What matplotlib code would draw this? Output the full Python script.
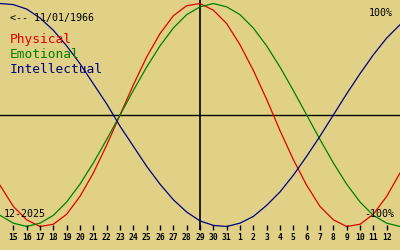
import matplotlib
matplotlib.use("Agg")
import matplotlib.pyplot as plt

# Day labels (Dec 15 .. Dec 31 2025, Jan 1 .. Jan 12 2026); index 0..28
day_labels = [str(d) for d in range(15, 32)] + [str(d) for d in range(1, 13)]

# Sample positions: one day before first label to one day after last label
x_days = list(range(-1, 30))

physical = [-0.63, -0.82, -0.94, -1.00, -0.98, -0.89, -0.73, -0.52, -0.27, 0.00,
            0.27, 0.52, 0.73, 0.89, 0.98, 1.00, 0.94, 0.82, 0.63, 0.40, 0.14,
            -0.14, -0.40, -0.63, -0.82, -0.94, -1.00, -0.98, -0.89, -0.73, -0.52]
emotional = [-0.90, -0.97, -1.00, -0.97, -0.90, -0.78, -0.62, -0.43, -0.22, 0.00,
             0.22, 0.43, 0.62, 0.78, 0.90, 0.97, 1.00, 0.97, 0.90, 0.78, 0.62,
             0.43, 0.22, 0.00, -0.22, -0.43, -0.62, -0.78, -0.90, -0.97, -1.00]
intellectual = [1.00, 0.99, 0.95, 0.87, 0.76, 0.62, 0.46, 0.28, 0.10, -0.10,
                -0.28, -0.46, -0.62, -0.76, -0.87, -0.95, -0.99, -1.00, -0.97, -0.91,
                -0.81, -0.69, -0.54, -0.37, -0.19, 0.00, 0.19, 0.37, 0.54, 0.69, 0.81]

series_names = ["Physical", "Emotional", "Intellectual"]
series_colors = ["#e00000", "#008000", "#000080"]

BG = "#e0d186"
W, H = 400, 250

fig = plt.figure(figsize=(4, 2.5), dpi=100)
fig.patch.set_facecolor(BG)
ax = fig.add_axes([0, 0, 1, 1])
ax.set_facecolor(BG)
ax.set_xlim(-1, 29)
amp = 111.5
top = 115 / amp
ax.set_ylim(-(H - 115) / amp, top)
ax.axis("off")

def py(ypix):
    return (115 - ypix) / amp

# axes lines
ax.axhline(0, color="black", lw=1.0)
ax.vlines(14, py(230), top, color="black", lw=1.2)

for vals, col in zip([physical, emotional, intellectual], series_colors):
    ax.plot(x_days, vals, color=col, lw=0.9)

# ticks and tick labels
ticks = list(range(len(day_labels)))
ax.vlines(ticks, py(225), py(230), color="black", lw=1.0)
for t, lab in zip(ticks, day_labels):
    ax.text(t, py(240.5), lab, ha="center", va="baseline", fontsize=5.8,
            family="DejaVu Sans Mono", fontweight="bold", color="black")

def fx(x):
    return x / W

def fy(y):
    return 1 - y / H

mono = "DejaVu Sans Mono"
fig.text(fx(10), fy(20.7), "<-- 11/01/1966", ha="left", va="baseline",
         fontsize=7.2, family=mono, color="black")
fig.text(fx(393), fy(16), "100%", ha="right", va="baseline",
         fontsize=7.2, family=mono, color="black")
fig.text(fx(394), fy(217), "-100%", ha="right", va="baseline",
         fontsize=7.2, family=mono, color="black")
fig.text(fx(4), fy(217), "12-2025", ha="left", va="baseline",
         fontsize=7.2, family=mono, color="black")

for name, col, base in zip(series_names, series_colors, [43, 58, 73]):
    fig.text(fx(10), fy(base), name, ha="left", va="baseline",
             fontsize=9.3, family=mono, color=col)

fig.savefig("out.png", dpi=100, facecolor=BG)
